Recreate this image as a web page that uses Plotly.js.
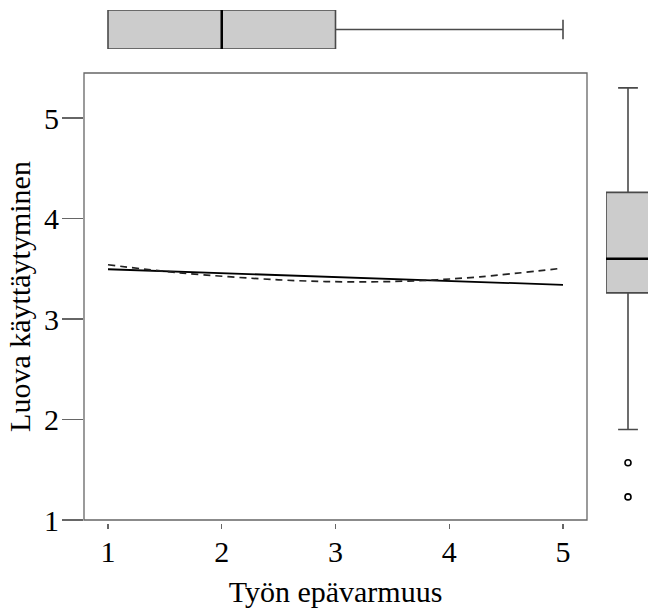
<!DOCTYPE html>
<html><head><meta charset="utf-8">
<script src="https://cdn.plot.ly/plotly-3.0.1.min.js"></script>
<style>html,body{margin:0;padding:0;background:#fff}</style>
</head><body><div id="plot" style="width:648px;height:608px"></div>
<script>
// Linear fit (solid) and smoothed fit (dashed)
const linX = [1, 5];
const linY = [3.495, 3.34];
const smoothX = [1, 1.63, 2.5, 3.1, 3.69, 4.27, 4.95];
const smoothY = [3.54, 3.46, 3.39, 3.37, 3.38, 3.42, 3.50];

// Marginal box plot: Työn epävarmuus (x)
const xBox = {q1: 1, median: 2, q3: 3, lower: 1, upper: 5};
// Marginal box plot: Luova käyttäytyminen (y)
const yBox = {q1: 3.26, median: 3.6, q3: 4.26, lower: 1.9, upper: 5.3};
const yOutliers = [1.57, 1.23];

const xTicks = [1, 2, 3, 4, 5];
const yTicks = [1, 2, 3, 4, 5];

const W = 648, H = 608;
const fx = p => p / W;
const fy = p => (H - p) / H;

const font = {family: 'Liberation Serif, Times New Roman, Times, serif', size: 30, color: '#000'};
const frame = '#666';
const boxLine = '#4a4a4a';
const fill = '#cccccc';

const traces = [
  {type: 'scatter', mode: 'lines', x: linX, y: linY, xaxis: 'x', yaxis: 'y',
   line: {color: '#000', width: 1.8}, hoverinfo: 'skip'},
  {type: 'scatter', mode: 'lines', x: smoothX, y: smoothY, xaxis: 'x', yaxis: 'y',
   line: {color: '#222', width: 1.7, dash: '7px,5px', shape: 'spline'}, hoverinfo: 'skip'},
  // top box
  {type: 'box', orientation: 'h', y: [0], q1: [xBox.q1], median: [xBox.median], q3: [xBox.q3],
   lowerfence: [xBox.lower], upperfence: [xBox.upper], xaxis: 'x', yaxis: 'y2',
   width: 1, whiskerwidth: 0.5, fillcolor: fill, line: {color: boxLine, width: 1.6}, boxpoints: false},
  {type: 'scatter', mode: 'lines', x: [xBox.median, xBox.median], y: [-0.5, 0.5], xaxis: 'x', yaxis: 'y2',
   line: {color: '#000', width: 2.5}, hoverinfo: 'skip'},
  // right box
  {type: 'box', x: [0], q1: [yBox.q1], median: [yBox.median], q3: [yBox.q3],
   lowerfence: [yBox.lower], upperfence: [yBox.upper], xaxis: 'x3', yaxis: 'y',
   width: 1, whiskerwidth: 0.45, fillcolor: fill, line: {color: boxLine, width: 1.6}, boxpoints: false},
  {type: 'scatter', mode: 'lines', x: [-0.5, 0.5], y: [yBox.median, yBox.median], xaxis: 'x3', yaxis: 'y',
   line: {color: '#000', width: 2.5}, hoverinfo: 'skip'},
  {type: 'scatter', mode: 'markers', x: yOutliers.map(() => 0), y: yOutliers, xaxis: 'x3', yaxis: 'y',
   marker: {symbol: 'circle-open', size: 6, color: '#000', line: {width: 1.6}}, hoverinfo: 'skip'}
];

const layout = {
  width: W, height: H,
  margin: {l: 0, r: 0, t: 0, b: 0},
  paper_bgcolor: '#fff', plot_bgcolor: '#fff',
  showlegend: false,
  font: font,
  xaxis: {
    domain: [fx(84), fx(587)], range: [0.789, 5.211],
    anchor: 'free', position: fy(523),
    tickvals: xTicks, ticktext: xTicks.map(String),
    ticks: 'outside', ticklen: 5, tickwidth: 1.2, tickcolor: frame,
    showline: false, showgrid: false, zeroline: false,
    tickfont: font, ticklabelstandoff: -3,
    title: {text: 'Työn epävarmuus', font: font, standoff: 13}
  },
  yaxis: {
    domain: [fy(520), fy(73)], range: [1, 5.448],
    anchor: 'x',
    tickvals: yTicks, ticktext: yTicks.map(String),
    ticks: 'outside', ticklen: 21, tickwidth: 1.2, tickcolor: frame,
    showline: false, showgrid: false, zeroline: false,
    tickfont: font, ticklabelstandoff: -3,
    title: {text: 'Luova käyttäytyminen', font: font, standoff: 4}
  },
  yaxis2: {
    domain: [fy(49), fy(10)], range: [-0.5, 0.5], anchor: 'x',
    visible: false, fixedrange: true
  },
  xaxis3: {
    domain: [fx(606), 1], range: [-0.5, 20/44], anchor: 'y',
    visible: false, fixedrange: true
  },
  shapes: [
    {type: 'rect', xref: 'paper', yref: 'paper', x0: fx(84), x1: fx(587), y0: fy(520), y1: fy(73),
     line: {color: frame, width: 1.3}, fillcolor: 'rgba(0,0,0,0)', layer: 'above'}
  ]
};

Plotly.newPlot('plot', traces, layout, {displayModeBar: false, staticPlot: true});
</script></body></html>
